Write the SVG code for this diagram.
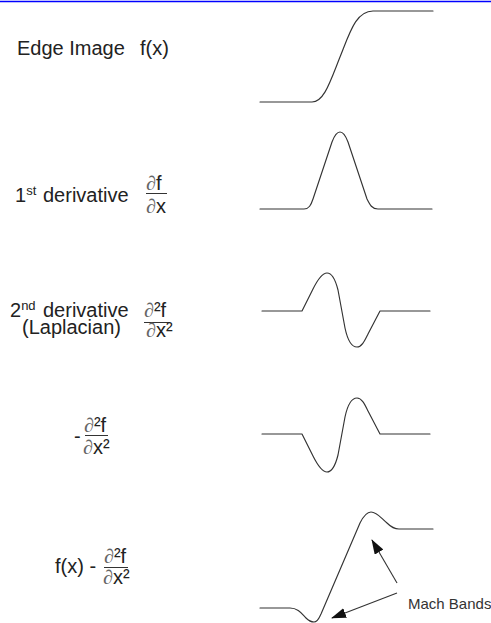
<svg xmlns="http://www.w3.org/2000/svg" width="491" height="623" viewBox="0 0 491 623">
<defs>
<style>
.t{font-family:"Liberation Sans",Arial,sans-serif;font-size:20px;fill:#222}
.sup{font-size:13px}
.d{font-family:"Liberation Serif","DejaVu Serif",serif;font-style:italic;fill:#666}
.fl{stroke:#333;stroke-width:1}
.c{fill:none;stroke:#333;stroke-width:1.15;stroke-linejoin:round;stroke-linecap:round}
.ar{stroke:#333;stroke-width:1.1;fill:none}
.mb{font-family:"Liberation Sans",Arial,sans-serif;font-size:15px;fill:#333}
</style>
<marker id="ah" markerUnits="userSpaceOnUse" markerWidth="15" markerHeight="11" refX="14" refY="5" orient="auto"><path d="M0,0 L15,5 L0,10 z" fill="#111"/></marker>
</defs>
<rect width="491" height="623" fill="#fff"/>
<line x1="0" y1="1.5" x2="491" y2="1.5" stroke="#0000ff" stroke-width="1.5"/>

<g id="edge">
<text class="t" x="17" y="55">Edge Image</text>
<text class="t" x="140" y="55">f(x)</text>
<path class="c" d="M260,102 H312 C324,102 330,82 340,57 C350,32 356,11 373,11 H433"/>
</g>

<g id="first">
<text class="t" x="15" y="202">1<tspan class="sup" dy="-7">st</tspan><tspan x="43" dy="7">derivative</tspan></text>
<text class="t" x="146" y="190"><tspan class="d">∂</tspan>f</text>
<line class="fl" x1="146" y1="193.5" x2="167" y2="193.5"/>
<text class="t" x="146" y="213"><tspan class="d">∂</tspan>x</text>
<path class="c" d="M260,209 H304 C309,209 311,205 313,199 L332,142 C335,134 337,132 340,132 C343,132 345,134 348,142 L367,199 C370,205 372,209 378,209 H432"/>
</g>

<g id="second">
<text class="t" x="10" y="317">2<tspan class="sup" dy="-7">nd</tspan><tspan x="43" dy="7">derivative</tspan><tspan x="22" y="334">(Laplacian)</tspan></text>
<text class="t" x="144" y="317"><tspan class="d">∂</tspan>²f</text>
<line class="fl" x1="144" y1="322.5" x2="170" y2="322.5"/>
<text class="t" x="146" y="337"><tspan class="d">∂</tspan>x²</text>
<path class="c" d="M262,311 H302 L313,289 C318,279 322,273 327,273 C333,273 336,282 338,290 L345,328 C348,342 352,347 357,347 C362,347 365,340 368,334 L380,311 H430"/>
</g>

<g id="neg-second">
<text class="t" x="74" y="443">-</text>
<text class="t" x="84" y="432"><tspan class="d">∂</tspan>²f</text>
<line class="fl" x1="85" y1="435.5" x2="108" y2="435.5"/>
<text class="t" x="83" y="454"><tspan class="d">∂</tspan>x²</text>
<path class="c" d="M262,434 H302 L313,456 C318,466 322,472 327,472 C333,472 336,463 338,455 L345,417 C348,403 352,398 357,398 C362,398 365,405 368,411 L380,434 H430"/>
</g>

<g id="sharpened">
<text class="t" x="55" y="573">f(x) -</text>
<text class="t" x="104" y="563"><tspan class="d">∂</tspan>²f</text>
<line class="fl" x1="104" y1="567.5" x2="128" y2="567.5"/>
<text class="t" x="103" y="584"><tspan class="d">∂</tspan>x²</text>
<path class="c" d="M260,608 H290 C298,608 302,614 306,618 C309,621 311,622 314,622 C318,622 319,618 321,614 L360,523 C364,515 367,512 371,512 C377,512 381,518 387,523 C391,527 394,529 399,529 H433"/>
</g>

<g id="mach-bands">
<text class="mb" x="408" y="609">Mach Bands</text>
</g>

<g id="connectors">
<line class="ar" x1="397" y1="583" x2="372" y2="540" marker-end="url(#ah)"/>
<line class="ar" x1="397" y1="593" x2="332" y2="618" marker-end="url(#ah)"/>
</g>
</svg>
